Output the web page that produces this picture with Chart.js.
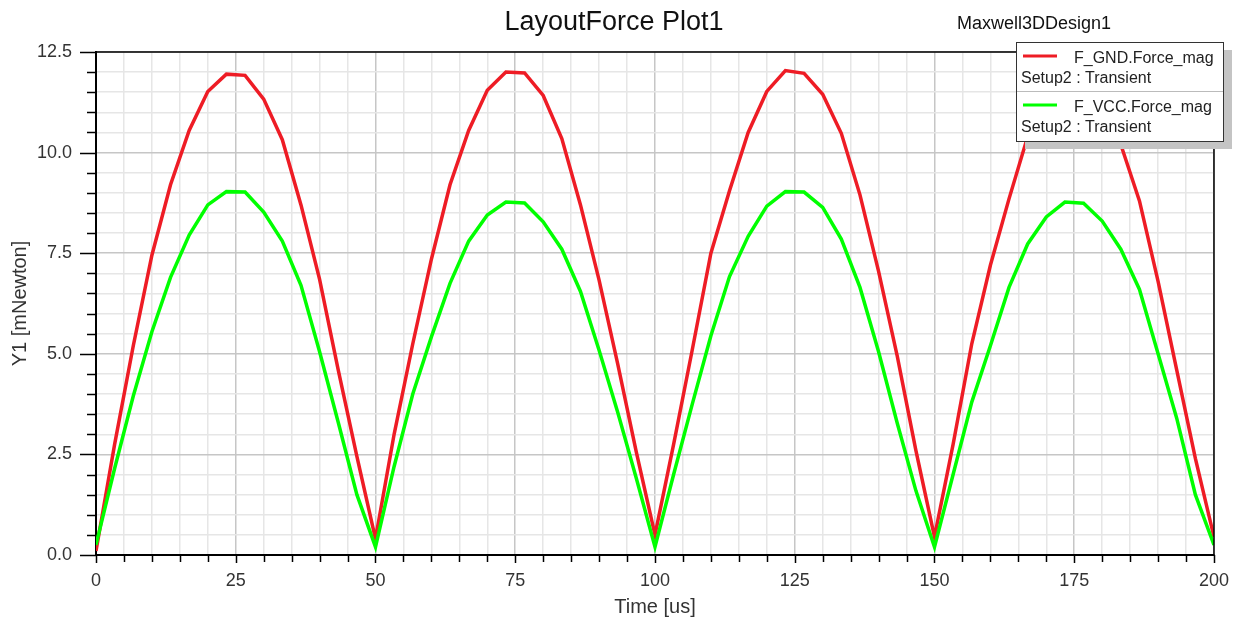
<!DOCTYPE html>
<html>
<head>
<meta charset="utf-8">
<title>LayoutForce Plot1</title>
<script src="https://cdn.jsdelivr.net/npm/chart.js@4.4.1/dist/chart.umd.min.js"></script>
<style>
  html, body { margin: 0; padding: 0; background: #fff; }
  #wrap { width: 1244px; height: 620px; }
</style>
</head>
<body>
<div id="wrap"><canvas id="forceChart" width="1244" height="620"></canvas></div>
<script>
// time samples [us]
const times = [0, 3.33, 6.67, 10, 13.33, 16.67, 20, 23.33, 26.67, 30, 33.33, 36.67, 40, 43.33, 46.67, 50,
  53.33, 56.67, 60, 63.33, 66.67, 70, 73.33, 76.67, 80, 83.33, 86.67, 90, 93.33, 96.67, 100,
  103.33, 106.67, 110, 113.33, 116.67, 120, 123.33, 126.67, 130, 133.33, 136.67, 140, 143.33, 146.67, 150,
  153.33, 156.67, 160, 163.33, 166.67, 170, 173.33, 176.67, 180, 183.33, 186.67, 190, 193.33, 196.67, 200];

// F_GND.Force_mag [mNewton]
const gndForce = [0.1, 2.75, 5.2, 7.45, 9.2, 10.55, 11.52, 11.95, 11.92, 11.33, 10.32, 8.7, 6.85, 4.6, 2.45, 0.4,
  3.0, 5.25, 7.35, 9.2, 10.55, 11.55, 12.0, 11.98, 11.42, 10.35, 8.7, 6.83, 4.75, 2.55, 0.5,
  2.75, 5.1, 7.5, 9.05, 10.5, 11.52, 12.04, 11.97, 11.45, 10.48, 8.95, 7.05, 4.95, 2.6, 0.45,
  2.75, 5.25, 7.2, 8.85, 10.4, 11.5, 12.0, 11.95, 11.4, 10.2, 8.8, 6.8, 4.6, 2.4, 0.45];

// F_VCC.Force_mag [mNewton]
const vccForce = [0.25, 2.15, 3.95, 5.55, 6.9, 7.95, 8.7, 9.03, 9.02, 8.52, 7.8, 6.7, 5.05, 3.3, 1.5, 0.2,
  2.2, 4.0, 5.42, 6.75, 7.8, 8.45, 8.77, 8.75, 8.28, 7.6, 6.55, 5.09, 3.55, 1.9, 0.2,
  2.0, 3.75, 5.45, 6.92, 7.92, 8.67, 9.03, 9.02, 8.64, 7.85, 6.65, 5.05, 3.28, 1.6, 0.2,
  2.0, 3.8, 5.2, 6.65, 7.73, 8.4, 8.77, 8.74, 8.3, 7.6, 6.6, 5.0, 3.4, 1.5, 0.25];

const xLabels = [0, 25, 50, 75, 100, 125, 150, 175, 200];
const yLabels = [0, 2.5, 5, 7.5, 10, 12.5];

const FONT = "'Liberation Sans', Arial, sans-serif";

function isMajor(v, list) {
  return list.some(m => Math.abs(m - v) < 1e-6);
}

const frame = {
  id: "frame",
  afterDatasetsDraw(chart) {
    const ctx = chart.ctx;
    const a = chart.chartArea;
    const xs = chart.scales.x, ys = chart.scales.y;
    ctx.save();
    ctx.strokeStyle = "#000";
    // top + right border
    ctx.lineWidth = 1.5;
    ctx.beginPath();
    ctx.moveTo(a.left, a.top);
    ctx.lineTo(a.right, a.top);
    ctx.lineTo(a.right, a.bottom);
    ctx.stroke();
    // tick marks
    ctx.lineWidth = 1.5;
    ctx.beginPath();
    xs.ticks.forEach(t => {
      const px = Math.round(xs.getPixelForValue(t.value)) + 0.5;
      const len = isMajor(t.value, xLabels) ? 8 : 7;
      ctx.moveTo(px, a.bottom);
      ctx.lineTo(px, a.bottom + len);
    });
    ys.ticks.forEach(t => {
      const py = Math.round(ys.getPixelForValue(t.value)) + 0.5;
      const len = isMajor(t.value, yLabels) ? 16 : 9;
      ctx.moveTo(a.left, py);
      ctx.lineTo(a.left - len, py);
    });
    ctx.stroke();
    ctx.restore();
  },
  afterDraw(chart) {
    const ctx = chart.ctx;
    const a = chart.chartArea;
    ctx.save();
    ctx.fillStyle = "#111";
    ctx.textAlign = "center";
    ctx.textBaseline = "middle";
    ctx.font = "27px " + FONT;
    ctx.fillText("LayoutForce Plot1", 614, 23);
    ctx.font = "18px " + FONT;
    ctx.fillText("Maxwell3DDesign1", 1034, 24);
    ctx.fillStyle = "#333";
    ctx.font = "20px " + FONT;
    ctx.fillText("Time [us]", (a.left + a.right) / 2, 607);
    ctx.save();
    ctx.translate(20, (a.top + a.bottom) / 2);
    ctx.rotate(-Math.PI / 2);
    ctx.fillText("Y1 [mNewton]", 0, 0);
    ctx.restore();

    // legend box with shadow
    const bx = 1016, by = 42, bw = 207, bh = 99;
    ctx.fillStyle = "#c4c4c4";
    ctx.fillRect(bx + 9, by + 8, bw, bh);
    ctx.fillStyle = "#fff";
    ctx.fillRect(bx, by, bw, bh);
    ctx.strokeStyle = "#333";
    ctx.lineWidth = 1;
    ctx.strokeRect(bx + 0.5, by + 0.5, bw, bh);
    ctx.strokeStyle = "#bbb";
    ctx.beginPath();
    ctx.moveTo(bx + 1, 91.5);
    ctx.lineTo(bx + bw, 91.5);
    ctx.stroke();

    const entries = chart.data.datasets.map(d => d).sort((p, q) => p.legendRow - q.legendRow);
    entries.forEach((d, i) => {
      const y0 = 58 + i * 49;
      ctx.strokeStyle = d.borderColor;
      ctx.lineWidth = 3;
      ctx.beginPath();
      ctx.moveTo(1023, y0 - 2);
      ctx.lineTo(1057, y0 - 2);
      ctx.stroke();
      ctx.fillStyle = "#222";
      ctx.font = "16px " + FONT;
      ctx.textAlign = "left";
      ctx.fillText(d.label, 1074, y0 + 1);
      ctx.fillText("Setup2 : Transient", 1021, y0 + 21);
    });
    ctx.restore();
  }
};

new Chart(document.getElementById("forceChart"), {
  type: "line",
  data: {
    datasets: [{
      label: "F_GND.Force_mag",
      legendRow: 0,
      data: times.map((t, i) => ({ x: t, y: gndForce[i] })),
      borderColor: "#ee1c25",
      borderWidth: 3.5,
      pointRadius: 0,
      tension: 0,
      order: 1
    }, {
      label: "F_VCC.Force_mag",
      legendRow: 1,
      data: times.map((t, i) => ({ x: t, y: vccForce[i] })),
      borderColor: "#00ff00",
      borderWidth: 3.5,
      pointRadius: 0,
      tension: 0,
      order: 0
    }]
  },
  options: {
    responsive: false,
    animation: false,
    layout: { padding: { left: 0, top: 52, right: 26, bottom: 0 } },
    plugins: {
      legend: { display: false },
      tooltip: { enabled: false }
    },
    scales: {
      x: {
        type: "linear",
        min: 0,
        max: 200,
        afterFit(s) { s.height = 65; },
        ticks: {
          stepSize: 5,
          autoSkip: false,
          maxRotation: 0,
          padding: 15,
          color: "#333",
          font: { family: FONT, size: 18 },
          callback: v => isMajor(v, xLabels) ? String(v) : ""
        },
        grid: {
          drawTicks: false,
          lineWidth: 1.5,
          color: c => (c.tick && isMajor(c.tick.value, xLabels)) ? "#c6c6c6" : "#e6e6e6"
        },
        border: { color: "#000", width: 2 }
      },
      y: {
        min: 0,
        max: 12.5,
        afterFit(s) { s.width = 96; },
        ticks: {
          stepSize: 0.5,
          autoSkip: false,
          padding: 24,
          color: "#333",
          font: { family: FONT, size: 18 },
          callback: v => isMajor(v, yLabels) ? v.toFixed(1) : ""
        },
        grid: {
          drawTicks: false,
          lineWidth: 1.5,
          color: c => (c.tick && isMajor(c.tick.value, yLabels)) ? "#c6c6c6" : "#e6e6e6"
        },
        border: { color: "#000", width: 2 }
      }
    }
  },
  plugins: [frame]
});
</script>
</body>
</html>
